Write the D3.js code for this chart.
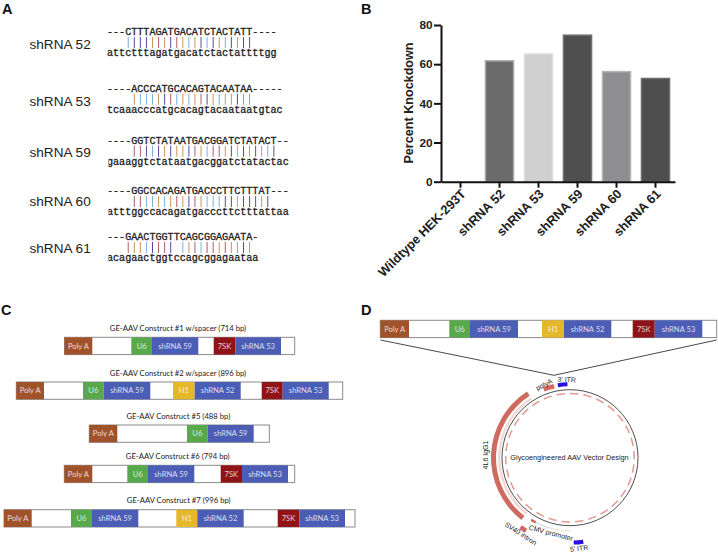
<!DOCTYPE html>
<html>
<head>
<meta charset="utf-8">
<script src="https://cdn.jsdelivr.net/npm/d3@7"></script>
<style>
  html, body { margin: 0; padding: 0; background: #fff; }
  svg { display: block; font-family: "Liberation Sans", Arial, sans-serif; }
</style>
</head>
<body>
<svg id="figure" width="718" height="559"></svg>
<script>
// Panel A: alignments
const alignNames = ["shRNA 52", "shRNA 53", "shRNA 59", "shRNA 60", "shRNA 61"];
const alignQuery = [
    "---CTTTAGATGACATCTACTATT----",
    "----ACCCATGCACAGTACAATAA-----",
    "----GGTCTATAATGACGGATCTATACT--",
    "----GGCCACAGATGACCCTTCTTTAT---",
    "---GAACTGGTTCAGCGGAGAATA-"
];
const alignSubject = [
    "attctttagatgacatctactattttgg",
    "tcaaacccatgcacagtacaataatgtac",
    "gaaaggtctataatgacggatctatactac",
    "atttggccacagatgacccttctttattaa",
    "acagaactggtccagcggagaataa"
];

// Panel B: knockdown bars
const barNames = ["Wildtype HEK-293T", "shRNA 52", "shRNA 53", "shRNA 59", "shRNA 60", "shRNA 61"];
const barValues = [0, 61.7, 65.2, 74.8, 56.2, 52.7];

// Panels C and D: construct segments, lengths
const constructTitles = [
    "GE-AAV Construct #1 w/spacer (714 bp)",
    "GE-AAV Construct #2 w/spacer (896 bp)",
    "GE-AAV Construct #5 (488 bp)",
    "GE-AAV Construct #6 (794 bp)",
    "GE-AAV Construct #7 (996 bp)"
];
const constructParts = [
    ["Poly A", "", "U6", "shRNA 59", "", "7SK", "shRNA 53", ""],
    ["Poly A", "", "U6", "shRNA 59", "", "H1", "shRNA 52", "", "7SK", "shRNA 53", ""],
    ["Poly A", "", "U6", "shRNA 59", ""],
    ["Poly A", "", "U6", "shRNA 59", "", "7SK", "shRNA 53", ""],
    ["Poly A", "", "U6", "shRNA 59", "", "H1", "shRNA 52", "", "7SK", "shRNA 53", ""]
];
const constructLengths = [
    [27.8, 39, 20.7, 46.3, 15.4, 21.6, 45.7, 13.7],
    [27.7, 39, 20.7, 46.6, 22.7, 21.7, 46, 21, 21, 46, 14],
    [28, 69.7, 20.7, 46, 15.6],
    [28, 35, 20.7, 46.3, 26.4, 21.3, 46, 6.7],
    [27.7, 39.3, 21, 46.3, 38, 21, 46.4, 34, 21.6, 45.7, 10]
];
const vectorParts = ["Poly A", "", "U6", "shRNA 59", "", "H1", "shRNA 52", "", "7SK", "shRNA 53", ""];
const vectorLengths = [28.7, 40.3, 20.7, 48, 24, 22, 47.3, 21.4, 22, 47.6, 14.4];

// Panel D: plasmid features, degrees clockwise from 12 o'clock
const featureNames = ["4L6 IgG1", "polyA", "3' ITR", "SV40 intron", "5' ITR"];
const featureStart = [-142, -21, -9.5, -149, 171];
const featureEnd = [-33, -12.5, -2, -144.5, 177.5];
const dashStart = d3.range(0, 360, 12);

const baseColor = {A: "#c9955a", C: "#7fb0d6", G: "#a9616b", T: "#5b4a9c"};
const partColor = {"Poly A": "#a0522a", "U6": "#58a84c", "shRNA 59": "#4c5db5", "shRNA 52": "#4c5db5",
    "shRNA 53": "#4c5db5", "7SK": "#8f1418", "H1": "#e5b82a", "": "#fff"};

const svg = d3.select("#figure");

// Panel letters
const letters = [["A", 2, 14], ["B", 361, 14], ["C", 1, 315], ["D", 361, 315]];
svg.selectAll("text.panel")
    .data(letters)
    .enter()
    .append("text")
    .attr("class", "panel")
    .attr("x", d => d[1])
    .attr("y", d => d[2])
    .attr("font-size", 14.5)
    .attr("font-weight", "bold")
    .attr("fill", "#111")
    .text(d => d[0]);

// ---- Panel A ----
const charX = d3.scaleLinear().domain([0, 30]).range([107, 289]);
const rowY = [32, 88.7, 140.7, 191, 237];
const clipStart = [107, 107, 108.5, 108.5, 108.5];
const clipEnd = [277.5, 282.7, 289, 289, 289];

alignNames.forEach((name, i) => {
    const top = rowY[i];
    svg.append("text")
        .attr("x", 29.5)
        .attr("y", top + [16.5, 17, 16, 14.5, 16.3][i])
        .attr("font-size", 13.6)
        .attr("fill", "#222")
        .text(name);

    svg.append("clipPath").attr("id", "seq" + i)
        .append("rect")
        .attr("x", clipStart[i])
        .attr("y", top - 8)
        .attr("width", clipEnd[i] - clipStart[i])
        .attr("height", 40);

    const g = svg.append("g").attr("clip-path", `url(#seq${i})`);
    [alignQuery[i], alignSubject[i]].forEach((seq, k) => {
        g.append("text")
            .attr("x", charX(0))
            .attr("y", top + (k === 0 ? 3 : 24))
            .attr("font-family", "'Liberation Mono', monospace")
            .attr("font-size", 10.1)
            .attr("stroke", "#222")
            .attr("stroke-width", 0.3)
            .attr("fill", "#222")
            .text(seq);
    });

    // match ticks
    const pairs = alignQuery[i].split("").map((c, j) => ({c, j, s: alignSubject[i][j]}))
        .filter(d => d.c !== "-" && d.c.toLowerCase() === d.s);
    g.selectAll("line")
        .data(pairs)
        .enter()
        .append("line")
        .attr("x1", d => charX(d.j + 0.5))
        .attr("x2", d => charX(d.j + 0.5))
        .attr("y1", top + 5)
        .attr("y2", top + 16)
        .attr("stroke", d => baseColor[d.c])
        .attr("stroke-width", 1);
});

// ---- Panel B ----
const x = d3.scaleBand().domain(barNames).range([441, 675]).paddingInner(0.28).paddingOuter(0.14);
const y = d3.scaleLinear().domain([0, 80]).range([181.7, 25]);
const barFill = ["#fff", "#6b6b6b", "#cfcfcf", "#4f4f4f", "#8e8e90", "#4d4d4d"];
const barEdge = ["#fff", "#a8a8a8", "#dedede", "#6e6e6e", "#b5b5b7", "#6e6e6e"];

svg.selectAll("rect.bar")
    .data(barNames)
    .enter()
    .append("rect")
    .attr("class", "bar")
    .attr("x", d => x(d))
    .attr("y", (d, i) => y(barValues[i]))
    .attr("width", x.bandwidth())
    .attr("height", (d, i) => y(0) - y(barValues[i]))
    .attr("fill", (d, i) => barFill[i])
    .attr("stroke", (d, i) => barValues[i] ? barEdge[i] : "none")
    .attr("stroke-width", 1.5);

const yAxis = svg.append("g")
    .attr("transform", "translate(441,0)")
    .call(d3.axisLeft(y).tickValues([0, 20, 40, 60, 80]).tickSizeInner(7).tickSizeOuter(0));
const xAxis = svg.append("g")
    .attr("transform", "translate(0,181.7)")
    .call(d3.axisBottom(x).tickSizeInner(6).tickSizeOuter(0));

[yAxis, xAxis].forEach(a => {
    a.selectAll("path,line").attr("stroke", "#111").attr("stroke-width", 2);
});
yAxis.selectAll("text")
    .attr("font-family", "'Liberation Sans', Arial, sans-serif")
    .attr("font-size", 11.8)
    .attr("font-weight", "bold")
    .attr("fill", "#222")
    .attr("x", -8.5);
xAxis.selectAll("text")
    .attr("font-family", "'Liberation Sans', Arial, sans-serif")
    .attr("font-size", 12.8)
    .attr("font-weight", "bold")
    .attr("fill", "#222")
    .attr("text-anchor", "end")
    .attr("dy", null)
    .attr("y", 0)
    .attr("transform", "translate(6,13) rotate(-45)");

svg.append("text")
    .attr("transform", "translate(413,103) rotate(-90)")
    .attr("text-anchor", "middle")
    .attr("font-size", 12.6)
    .attr("font-weight", "bold")
    .attr("fill", "#222")
    .text("Percent Knockdown");

// ---- Panels C and D: construct bars ----
function drawConstruct(parts, lengths, left, top, height, fontSize) {
    const total = d3.sum(lengths);
    const w = d3.scaleLinear().domain([0, total]).range([0, total]);
    const g = svg.append("g").attr("transform", `translate(${left},${top})`);
    let run = 0;
    const placed = parts.map((p, i) => {
        const item = {name: p, start: run, len: lengths[i]};
        run += lengths[i];
        return item;
    });
    g.append("rect")
        .attr("x", 0).attr("y", 0)
        .attr("width", w(total)).attr("height", height)
        .attr("fill", "#fff")
        .attr("stroke", "#8a8a8a")
        .attr("stroke-width", 1);
    g.selectAll("rect.part")
        .data(placed.filter(d => d.name))
        .enter()
        .append("rect")
        .attr("class", "part")
        .attr("x", d => w(d.start))
        .attr("y", 0)
        .attr("width", d => w(d.len))
        .attr("height", height)
        .attr("fill", d => partColor[d.name]);
    g.selectAll("text")
        .data(placed.filter(d => d.name))
        .enter()
        .append("text")
        .attr("x", d => w(d.start + d.len / 2))
        .attr("y", height / 2 + fontSize * 0.36)
        .attr("text-anchor", "middle")
        .attr("font-family", "Lato, sans-serif")
        .attr("font-size", fontSize)
        .attr("fill", "#fff")
        .attr("fill-opacity", 0.8)
        .text(d => d.name);
}

const constructLeft = [64.5, 16.3, 89.3, 64.3, 4];
const constructTop = [337.3, 382, 425, 465.3, 509.7];
const titleCenter = [178, 178, 178.3, 177.7, 178.7];

constructTitles.forEach((t, i) => {
    svg.append("text")
        .attr("x", titleCenter[i])
        .attr("y", constructTop[i] - 6.5)
        .attr("text-anchor", "middle")
        .attr("font-family", "Lato, sans-serif")
        .attr("font-size", 7.7)
        .attr("fill", "#222")
        .text(t);
    drawConstruct(constructParts[i], constructLengths[i], constructLeft[i], constructTop[i], 17.3, 7.6);
});

drawConstruct(vectorParts, vectorLengths, 380.3, 320.3, 17.3, 7.6);

// zoom lines from the insert down to the plasmid
svg.append("path")
    .attr("d", d3.line()([[380.5, 340], [554, 375.3], [716.7, 340]]))
    .attr("fill", "none")
    .attr("stroke", "#333")
    .attr("stroke-width", 0.9);

// ---- Panel D: plasmid ----
const plasmid = svg.append("g").attr("transform", "translate(570,457.7)");
const rad = d => d * Math.PI / 180;
const arc = d3.arc();

plasmid.append("circle")
    .attr("r", 68)
    .attr("fill", "none")
    .attr("stroke", "#222")
    .attr("stroke-width", 0.8);

// dashed inner feature ring
plasmid.selectAll("path.dash")
    .data(dashStart)
    .enter()
    .append("path")
    .attr("class", "dash")
    .attr("d", d => arc({innerRadius: 63.5, outerRadius: 65, startAngle: rad(d), endAngle: rad(d + 7.5)}))
    .attr("fill", "#e39a90");

// pale copy of the IgG1 arc
plasmid.append("path")
    .attr("d", arc({innerRadius: 69.5, outerRadius: 72, startAngle: rad(featureStart[0]), endAngle: rad(featureEnd[0])}))
    .attr("fill", "#f3dad6");

// CMV promoter, thin grey arc
plasmid.append("path")
    .attr("d", arc({innerRadius: 73, outerRadius: 73.6, startAngle: rad(179), endAngle: rad(212)}))
    .attr("fill", "#bdbdbd");
plasmid.append("path")
    .attr("d", arc({innerRadius: 72, outerRadius: 74.5, startAngle: rad(208), endAngle: rad(212)}))
    .attr("fill", "#cf6a60");

const featureInner = [74, 71, 71.5, 83, 83];
const featureOuter = [79, 75.5, 75.5, 87.5, 87];
const featureColor = ["#cf6a60", "#cf6a60", "#2a10e0", "#cf6a60", "#2a10e0"];

featureNames.forEach((name, i) => {
    plasmid.append("path")
        .attr("d", arc({innerRadius: featureInner[i], outerRadius: featureOuter[i],
            startAngle: rad(featureStart[i]), endAngle: rad(featureEnd[i])}))
        .attr("fill", featureColor[i]);
});

svg.append("text")
    .attr("x", 569.5)
    .attr("y", 459.5)
    .attr("text-anchor", "middle")
    .attr("font-size", 7.3)
    .attr("fill", "#222")
    .text("Glycoengineered AAV Vector Design");

const plasmidLabels = [
    ["polyA", 545.2, 386.7, -27],
    ["3' ITR", 566.7, 382, 2],
    ["4L6 IgG1", 487.7, 455, -90],
    ["SV40 intron", 519.5, 535.6, 33],
    ["CMV promoter", 550.3, 535.3, 15],
    ["5' ITR", 579.3, 550.7, -6]
];
plasmidLabels.forEach(d => {
    svg.append("text")
        .attr("transform", `translate(${d[1]},${d[2]}) rotate(${d[3]})`)
        .attr("text-anchor", "middle")
        .attr("font-size", 7)
        .attr("fill", "#222")
        .text(d[0]);
});
</script>
</body>
</html>
